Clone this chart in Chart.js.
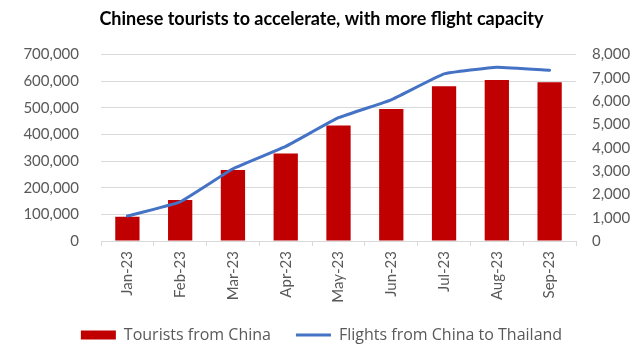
<!DOCTYPE html>
<html>
<head>
<meta charset="utf-8">
<script src="https://cdn.jsdelivr.net/npm/chart.js@4.4.1/dist/chart.umd.min.js"></script>
<style>
  html, body { margin: 0; padding: 0; background: #fff; }
  #wrap { width: 643px; height: 344px; }
</style>
</head>
<body>
<div id="wrap"><canvas id="myChart"></canvas></div>
<script>
  'use strict'

  const months = ['Jan-23', 'Feb-23', 'Mar-23', 'Apr-23', 'May-23', 'Jun-23', 'Jul-23', 'Aug-23', 'Sep-23']
  const tourists = [91000, 154000, 267000, 329000, 434000, 496000, 581000, 605000, 596000]
  const flights = [1070, 1680, 3100, 4060, 5290, 6060, 7170, 7460, 7330]
  const touristTicks = [0, 100000, 200000, 300000, 400000, 500000, 600000, 700000]
  const flightTicks = [0, 1000, 2000, 3000, 4000, 5000, 6000, 7000, 8000]

  const grey = '#595959'
  const gridColor = '#d9d9d9'
  const fontFamily = 'Lato, "Open Sans", sans-serif'

  // shrink the legend box so it sits close to the bottom edge
  const legendHeight = {
    id: 'legendHeight',
    beforeInit(chart) {
      const fit = chart.legend.fit
      chart.legend.fit = function() {
        fit.bind(chart.legend)()
        this.height = 42
      }
    }
  }

  const ctx = document.getElementById('myChart')
  // eslint-disable-next-line no-unused-vars
  const myChart = new Chart(ctx, {
    data: {
      labels: months,
      datasets: [{
        type: 'bar',
        label: 'Tourists from China',
        data: tourists,
        backgroundColor: '#c00000',
        borderWidth: 0,
        barPercentage: 0.46,
        categoryPercentage: 1,
        yAxisID: 'y',
        order: 1
      }, {
        type: 'line',
        label: 'Flights from China to Thailand',
        data: flights,
        borderColor: '#4472c4',
        backgroundColor: '#4472c4',
        borderWidth: 3,
        pointRadius: 0,
        tension: 0.1,
        borderJoinStyle: 'round',
        borderCapStyle: 'round',
        yAxisID: 'y1',
        order: 0
      }]
    },
    options: {
      responsive: true,
      maintainAspectRatio: false,
      animation: false,
      layout: { padding: 0 },
      plugins: {
        title: {
          display: true,
          text: 'Chinese tourists to accelerate, with more flight capacity',
          color: '#000',
          font: { family: fontFamily, size: 18, weight: 'bold' },
          padding: { top: 8, bottom: 25 }
        },
        legend: {
          position: 'bottom',
          labels: {
            color: grey,
            font: { family: '"Open Sans", sans-serif', size: 16 },
            usePointStyle: true,
            pointStyleWidth: 35,
            boxHeight: 9,
            padding: 25,
            sort: (a, b) => a.datasetIndex - b.datasetIndex,
            generateLabels(chart) {
              const items = Chart.defaults.plugins.legend.labels.generateLabels(chart)
              items.forEach(item => {
                item.pointStyle = item.datasetIndex === 0 ? 'rect' : 'line'
              })
              return items
            }
          }
        },
        tooltip: { enabled: false }
      },
      scales: {
        x: {
          offset: true,
          afterFit(scale) {
            scale.height = 61
          },
          grid: {
            offset: true,
            drawOnChartArea: false,
            color: gridColor,
            tickLength: 5
          },
          border: { color: gridColor },
          ticks: {
            color: grey,
            font: { family: fontFamily, size: 15 },
            minRotation: 90,
            maxRotation: 90,
            padding: 5
          }
        },
        y: {
          position: 'left',
          min: 0,
          max: 700000,
          afterBuildTicks(scale) {
            scale.ticks = touristTicks.map(v => ({ value: v }))
          },
          afterFit(scale) {
            scale.width = 101
          },
          grid: { color: gridColor, drawTicks: false },
          border: { display: false },
          ticks: {
            color: grey,
            font: { family: fontFamily, size: 15 },
            padding: 22,
            callback: v => v.toLocaleString('en-US')
          }
        },
        y1: {
          position: 'right',
          min: 0,
          max: 8000,
          afterBuildTicks(scale) {
            scale.ticks = flightTicks.map(v => ({ value: v }))
          },
          afterFit(scale) {
            scale.width = 67
          },
          grid: { drawOnChartArea: false, drawTicks: false },
          border: { display: false },
          ticks: {
            color: grey,
            font: { family: fontFamily, size: 15 },
            padding: 16,
            callback: v => v.toLocaleString('en-US')
          }
        }
      }
    },
    plugins: [legendHeight]
  })
</script>
</body>
</html>
